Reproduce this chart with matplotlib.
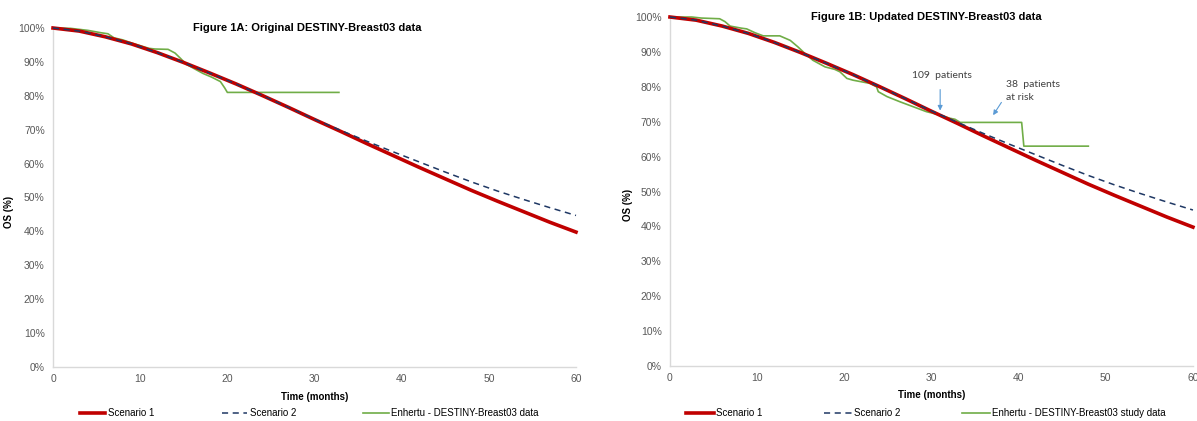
import matplotlib
matplotlib.use("Agg")
import matplotlib.pyplot as plt
from matplotlib.lines import Line2D

plt.rcParams['font.family'] = ['Liberation Sans', 'DejaVu Sans']

# Modelled OS curves (%), read every 3 months
months = [0, 3, 6, 9, 12, 15, 18, 21, 24, 27, 30, 33, 36, 39, 42, 45, 48, 51, 54, 57, 60]
scenario_1 = [100, 99.1, 97.4, 95.3, 92.7, 89.8, 86.7, 83.5, 80.1, 76.6, 73.0,
              69.5, 65.9, 62.4, 58.9, 55.5, 52.1, 48.9, 45.8, 42.7, 39.8]
scenario_2 = [100, 99.1, 97.4, 95.3, 92.7, 89.8, 86.7, 83.5, 80.1, 76.6, 73.1,
              69.8, 66.6, 63.5, 60.5, 57.5, 54.6, 51.9, 49.4, 47.0, 44.7]

# DESTINY-Breast03 KM, original cut
orig_t = [0, 2, 4, 5.5, 6.3, 7.0, 8, 9, 10, 11, 11.7, 13.2, 14.0, 14.6, 15.3,
          16.2, 17.2, 18.2, 19.2, 19.7, 20.0, 32.8]
orig_os = [100, 99.9, 99.3, 98.6, 98.3, 97.1, 96.5, 95.6, 94.8, 94.0, 93.8, 93.7,
           92.6, 91.1, 89.3, 88.0, 86.6, 85.5, 84.2, 82.3, 81.0, 81.0]

# DESTINY-Breast03 KM, updated cut
upd_t = [0, 2.5, 3.6, 5.7, 6.3, 6.9, 8.2, 8.8, 9.75, 10.7, 12.6, 13.8, 14.7, 15.5,
         16.4, 17.8, 18.9, 19.5, 20.3, 21.0, 22.9, 23.7, 23.9, 24.9, 26.4, 27.9,
         29.4, 31.0, 32.1, 32.7, 33.3, 40.35, 40.6, 48.0]
upd_os = [100, 100, 99.7, 99.5, 98.7, 97.4, 96.8, 96.6, 95.5, 94.6, 94.6, 93.3, 91.4,
          89.5, 87.6, 85.7, 85.0, 84.3, 82.4, 81.9, 81.0, 80.0, 78.6, 77.2, 75.7, 74.3,
          72.9, 71.9, 71.0, 70.7, 69.8, 69.8, 63.0, 63.0]

x_ticks = [0, 10, 20, 30, 40, 50, 60]
y_ticks = [0, 10, 20, 30, 40, 50, 60, 70, 80, 90, 100]
y_labels = [f"{v}%" for v in y_ticks]

RED = '#C00000'
NAVY = '#1F3864'
GREEN = '#70AD47'
ARROW = '#5B9BD5'

fig = plt.figure(figsize=(11.97, 4.21), dpi=100)
ax1 = fig.add_axes([0.0443, 0.1283, 0.4369, 0.8052])
ax2 = fig.add_axes([0.5597, 0.1306, 0.4369, 0.8290])


def style(ax):
    ax.set_xlim(0, 60)
    ax.set_ylim(0, 100)
    ax.set_xticks(x_ticks)
    ax.set_yticks(y_ticks)
    ax.set_yticklabels(y_labels)
    for s in ['top', 'right']:
        ax.spines[s].set_visible(False)
    for s in ['left', 'bottom']:
        ax.spines[s].set_color('#D9D9D9')
        ax.spines[s].set_linewidth(1.0)
    ax.tick_params(axis='both', length=0, labelsize=7.5, colors='#595959')
    ax.tick_params(axis='y', pad=6)
    ax.tick_params(axis='x', pad=5)


for ax, km_t, km_os in [(ax1, orig_t, orig_os), (ax2, upd_t, upd_os)]:
    style(ax)
    ax.plot(km_t, km_os, color=GREEN, lw=1.2, clip_on=False, zorder=3)
    ax.plot(months, scenario_1, color=RED, lw=2.6, clip_on=False, zorder=4)
    ax.plot(months, scenario_2, color=NAVY, lw=1.1, ls=(0, (4, 3)), clip_on=False, zorder=5)

# patients-at-risk callouts
ax2.annotate('', xy=(31.0, 72.4), xytext=(31.0, 80.0),
             arrowprops=dict(arrowstyle='-|>', color=ARROW, lw=0.8, mutation_scale=7))
ax2.text(31.2, 83.3, '109  patients', ha='center', va='center', fontsize=7.5,
         color='#404040', family=['Lato', 'DejaVu Sans'])
ax2.annotate('', xy=(36.9, 71.2), xytext=(38.2, 76.2),
             arrowprops=dict(arrowstyle='-|>', color=ARROW, lw=0.8, mutation_scale=7))
ax2.text(38.6, 78.8, '38  patients\nat risk', ha='left', va='center', fontsize=7.5,
         color='#404040', linespacing=1.45, family=['Lato', 'DejaVu Sans'])

# titles and axis labels
fig.text(0.2565, 0.934, 'Figure 1A: Original DESTINY-Breast03 data', ha='center',
         va='center', fontsize=8, fontweight='bold')
fig.text(0.774, 0.960, 'Figure 1B: Updated DESTINY-Breast03 data', ha='center',
         va='center', fontsize=8, fontweight='bold')
fig.text(0.0075, 0.496, 'OS (%)', rotation=90, ha='center', va='center',
         fontsize=7, fontweight='bold')
fig.text(0.5246, 0.513, 'OS (%)', rotation=90, ha='center', va='center',
         fontsize=7, fontweight='bold')
fig.text(0.263, 0.056, 'Time (months)', ha='center', va='center', fontsize=7, fontweight='bold')
fig.text(0.778, 0.061, 'Time (months)', ha='center', va='center', fontsize=7, fontweight='bold')

# legends
def handles():
    return [Line2D([], [], color=RED, lw=2.6),
            Line2D([], [], color=NAVY, lw=1.1, ls=(0, (4, 3))),
            Line2D([], [], color=GREEN, lw=1.2)]

fig.legend(handles(), ['Scenario 1', 'Scenario 2', 'Enhertu - DESTINY-Breast03 data'],
           loc='center', bbox_to_anchor=(0.2585, 0.019), ncol=3, frameon=False,
           fontsize=7, handlelength=2.6, handletextpad=0.3, columnspacing=6.9)
fig.legend(handles(), ['Scenario 1', 'Scenario 2', 'Enhertu - DESTINY-Breast03 study data'],
           loc='center', bbox_to_anchor=(0.7735, 0.019), ncol=3, frameon=False,
           fontsize=7, handlelength=2.9, handletextpad=0.2, columnspacing=6.3)

fig.savefig('out.png', dpi=100)
